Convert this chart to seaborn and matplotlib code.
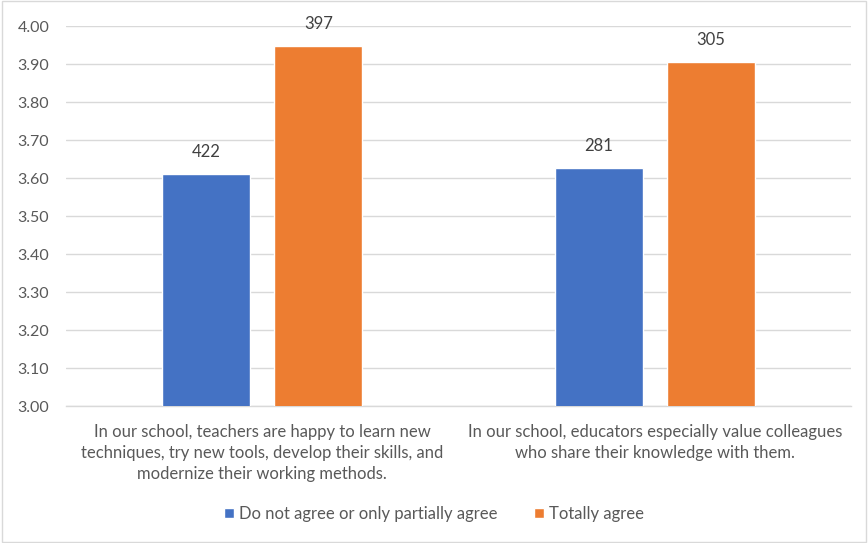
import matplotlib
matplotlib.use("Agg")
import matplotlib.pyplot as plt
import seaborn as sns
import pandas as pd

categories = [
    "In our school, teachers are happy to learn new\ntechniques, try new tools, develop their skills, and\nmodernize their working methods.",
    "In our school, educators especially value colleagues\nwho share their knowledge with them.",
]
series_names = ["Do not agree or only partially agree", "Totally agree"]
disagree_values = [3.61, 3.626]
agree_values = [3.948, 3.906]
disagree_counts = ["422", "281"]
agree_counts = ["397", "305"]
yticks = [3.00, 3.10, 3.20, 3.30, 3.40, 3.50, 3.60, 3.70, 3.80, 3.90, 4.00]

df = pd.DataFrame({
    "category": categories * 2,
    "series": [series_names[0]] * 2 + [series_names[1]] * 2,
    "value": disagree_values + agree_values,
})

sns.set_theme(style="white")
plt.rcParams['font.family'] = ['Lato', 'DejaVu Sans']
text_color = "#595959"

fig = plt.figure(figsize=(8.68, 5.43), dpi=100)
ax = fig.add_axes([66 / 868, 1 - 406 / 543, 785 / 868, 380 / 543])

palette = {series_names[0]: "#4472C4", series_names[1]: "#ED7D31"}
sns.barplot(data=df, x="category", y="value", hue="series", order=categories,
            hue_order=series_names, palette=palette, width=0.5707, gap=0.214,
            saturation=1, ax=ax, legend=True, zorder=3)

ax.set_ylim(3.0, 4.0)
ax.set_yticks(yticks)
ax.set_yticklabels([f"{v:.2f}" for v in yticks], color=text_color, fontsize=11.5)
ax.yaxis.grid(True, color="#D9D9D9", linewidth=1, zorder=0)
ax.set_axisbelow(True)
for s in ["top", "right", "left"]:
    ax.spines[s].set_visible(False)
ax.spines["bottom"].set_color("#D9D9D9")
ax.spines["bottom"].set_linewidth(1)
ax.tick_params(axis="both", length=0)
ax.tick_params(axis="y", pad=12)
ax.tick_params(axis="x", pad=13)
ax.set_xlabel("")
ax.set_ylabel("")
for lbl in ax.get_xticklabels():
    lbl.set_color(text_color)
    lbl.set_fontsize(12)
    lbl.set_linespacing(1.4)

count_labels = [disagree_counts, agree_counts]
for container, labels in zip(ax.containers, count_labels):
    ax.bar_label(container, labels=labels, padding=10, color="#404040", fontsize=12)

handles, labels = ax.get_legend_handles_labels()
ax.get_legend().remove()
fig.legend(handles, labels, loc="center", bbox_to_anchor=(0.5, 1 - 514 / 543),
           ncol=2, frameon=False, fontsize=12, handlelength=0.6, handleheight=0.6,
           handletextpad=0.3, columnspacing=2.2, labelcolor=text_color)

fig.patches.append(plt.Rectangle((0.002, 0.002), 0.996, 0.996, transform=fig.transFigure,
                                 fill=False, edgecolor="#D9D9D9", linewidth=1))

fig.savefig("out.png", dpi=100)
